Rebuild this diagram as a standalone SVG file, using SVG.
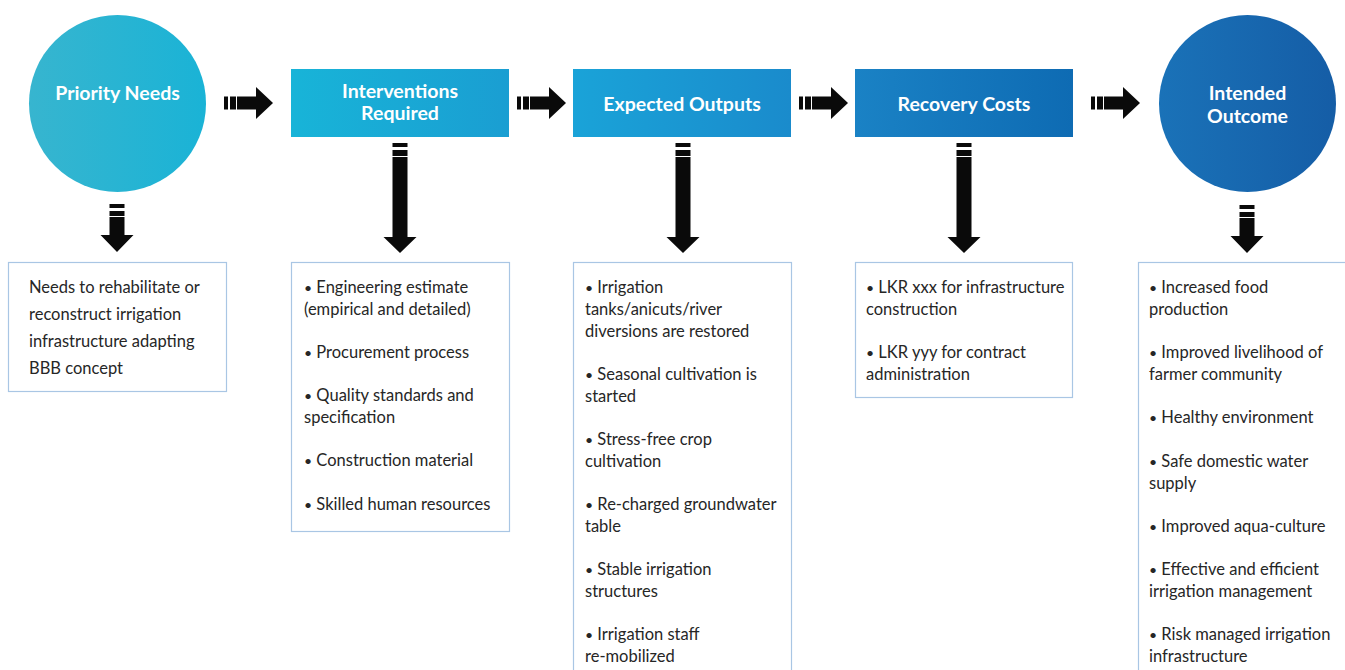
<svg xmlns="http://www.w3.org/2000/svg" width="1345" height="670" viewBox="0 0 1345 670">
  <style>
    .title { font-family: Lato, "Open Sans", sans-serif; font-weight: bold; font-size: 19.5px; fill: #ffffff; text-anchor: middle; }
    .body { font-family: Lato, "Open Sans", sans-serif; font-size: 16.5px; fill: #262626; }
    .b { font-size: 14px; }
    .box { fill: #ffffff; stroke: #a9c6e4; stroke-width: 1.2; }
    .arrow { fill: #0a0a0a; }
  </style>
  <defs>
    <linearGradient id="g1" x1="0" y1="0" x2="1" y2="0">
      <stop offset="0" stop-color="#37b5cf"/>
      <stop offset="1" stop-color="#1ab3d6"/>
    </linearGradient>
    <linearGradient id="g2" x1="0" y1="0" x2="1" y2="0">
      <stop offset="0" stop-color="#18b4d8"/>
      <stop offset="1" stop-color="#1a9ed2"/>
    </linearGradient>
    <linearGradient id="g3" x1="0" y1="0" x2="1" y2="0">
      <stop offset="0" stop-color="#1aa3d8"/>
      <stop offset="1" stop-color="#1a8bcc"/>
    </linearGradient>
    <linearGradient id="g4" x1="0" y1="0" x2="1" y2="0">
      <stop offset="0" stop-color="#1a82c5"/>
      <stop offset="1" stop-color="#0e6bb3"/>
    </linearGradient>
    <linearGradient id="g5" x1="0" y1="0" x2="1" y2="0">
      <stop offset="0" stop-color="#1a72b8"/>
      <stop offset="1" stop-color="#155da6"/>
    </linearGradient>
    <!-- horizontal block arrow, origin at left end of the tail, vertically centred -->
    <path id="harrow" class="arrow" d="M0,-6.5 h4 v13 h-4 z M6,-6.5 h6 v13 h-6 z M13,-6.5 h19 v-9.5 l17,16 l-17,16 v-9.5 h-19 z"/>
    <!-- short downward block arrow, origin at top centre -->
    <path id="varrow" class="arrow" d="M-7.5,0 h15 v4 h-15 z M-7.5,7 h15 v5 h-15 z M-7.5,13 h15 v18 h9 l-16.5,17 l-16.5,-17 h9 z"/>
    <!-- long downward block arrow, origin at top centre -->
    <path id="varrowlong" class="arrow" d="M-7.5,0 h15 v4 h-15 z M-7.5,7 h15 v6 h-15 z M-7.5,14 h15 v80 h9 l-16.5,16 l-16.5,-16 h9 z"/>
  </defs>

  <rect width="1345" height="670" fill="#ffffff"/>

  <!-- connectors -->
  <g id="connectors">
    <use href="#harrow" x="224" y="103"/>
    <use href="#harrow" x="517" y="103"/>
    <use href="#harrow" x="799" y="103"/>
    <use href="#harrow" x="1091" y="103"/>
    <use href="#varrow" x="117" y="204"/>
    <use href="#varrowlong" x="400" y="143"/>
    <use href="#varrowlong" x="683" y="143"/>
    <use href="#varrowlong" x="964" y="143"/>
    <use href="#varrow" x="1247" y="205"/>
  </g>

  <!-- stage 1 -->
  <g id="priority-needs">
    <circle cx="117.5" cy="103.5" r="88.5" fill="url(#g1)"/>
    <text class="title" x="117.5" y="100">Priority Needs</text>
  </g>
  <g id="priority-needs-detail">
    <rect class="box" x="8.5" y="262.5" width="218" height="129"/>
    <text class="body" x="29" y="293">Needs to rehabilitate or</text>
    <text class="body" x="29" y="320">reconstruct irrigation</text>
    <text class="body" x="29" y="347">infrastructure adapting</text>
    <text class="body" x="29" y="374">BBB concept</text>
  </g>

  <!-- stage 2 -->
  <g id="interventions">
    <rect x="291" y="69" width="218" height="68" fill="url(#g2)"/>
    <text class="title" x="400" y="98">Interventions</text>
    <text class="title" x="400" y="120">Required</text>
  </g>
  <g id="interventions-detail">
    <rect class="box" x="291.5" y="262.5" width="218" height="269"/>
    <text class="body" x="304" y="293"><tspan class="b">•</tspan> Engineering estimate</text>
    <text class="body" x="304" y="315">(empirical and detailed)</text>
    <text class="body" x="304" y="358"><tspan class="b">•</tspan> Procurement process</text>
    <text class="body" x="304" y="401"><tspan class="b">•</tspan> Quality standards and</text>
    <text class="body" x="304" y="423">specification</text>
    <text class="body" x="304" y="466"><tspan class="b">•</tspan> Construction material</text>
    <text class="body" x="304" y="510"><tspan class="b">•</tspan> Skilled human resources</text>
  </g>

  <!-- stage 3 -->
  <g id="expected-outputs">
    <rect x="573" y="69" width="218" height="68" fill="url(#g3)"/>
    <text class="title" x="682" y="111">Expected Outputs</text>
  </g>
  <g id="expected-outputs-detail">
    <rect class="box" x="573.5" y="262.5" width="218" height="420"/>
    <text class="body" x="585" y="293"><tspan class="b">•</tspan> Irrigation</text>
    <text class="body" x="585" y="315">tanks/anicuts/river</text>
    <text class="body" x="585" y="337">diversions are restored</text>
    <text class="body" x="585" y="380"><tspan class="b">•</tspan> Seasonal cultivation is</text>
    <text class="body" x="585" y="402">started</text>
    <text class="body" x="585" y="445"><tspan class="b">•</tspan> Stress-free crop</text>
    <text class="body" x="585" y="467">cultivation</text>
    <text class="body" x="585" y="510"><tspan class="b">•</tspan> Re-charged groundwater</text>
    <text class="body" x="585" y="532">table</text>
    <text class="body" x="585" y="575"><tspan class="b">•</tspan> Stable irrigation</text>
    <text class="body" x="585" y="597">structures</text>
    <text class="body" x="585" y="640"><tspan class="b">•</tspan> Irrigation staff</text>
    <text class="body" x="585" y="662">re-mobilized</text>
  </g>

  <!-- stage 4 -->
  <g id="recovery-costs">
    <rect x="855" y="69" width="218" height="68" fill="url(#g4)"/>
    <text class="title" x="964" y="111">Recovery Costs</text>
  </g>
  <g id="recovery-costs-detail">
    <rect class="box" x="855.5" y="262.5" width="217" height="135"/>
    <text class="body" x="866" y="293"><tspan class="b">•</tspan> LKR xxx for infrastructure</text>
    <text class="body" x="866" y="315">construction</text>
    <text class="body" x="866" y="358"><tspan class="b">•</tspan> LKR yyy for contract</text>
    <text class="body" x="866" y="380">administration</text>
  </g>

  <!-- stage 5 -->
  <g id="intended-outcome">
    <circle cx="1247.5" cy="103.5" r="88.5" fill="url(#g5)"/>
    <text class="title" x="1247.5" y="100">Intended</text>
    <text class="title" x="1247.5" y="123">Outcome</text>
  </g>
  <g id="intended-outcome-detail">
    <rect class="box" x="1138.5" y="262.5" width="230" height="420"/>
    <text class="body" x="1149" y="293"><tspan class="b">•</tspan> Increased food</text>
    <text class="body" x="1149" y="315">production</text>
    <text class="body" x="1149" y="358"><tspan class="b">•</tspan> Improved livelihood of</text>
    <text class="body" x="1149" y="380">farmer community</text>
    <text class="body" x="1149" y="423"><tspan class="b">•</tspan> Healthy environment</text>
    <text class="body" x="1149" y="467"><tspan class="b">•</tspan> Safe domestic water</text>
    <text class="body" x="1149" y="489">supply</text>
    <text class="body" x="1149" y="532"><tspan class="b">•</tspan> Improved aqua-culture</text>
    <text class="body" x="1149" y="575"><tspan class="b">•</tspan> Effective and efficient</text>
    <text class="body" x="1149" y="597">irrigation management</text>
    <text class="body" x="1149" y="640"><tspan class="b">•</tspan> Risk managed irrigation</text>
    <text class="body" x="1149" y="662">infrastructure</text>
  </g>
</svg>
